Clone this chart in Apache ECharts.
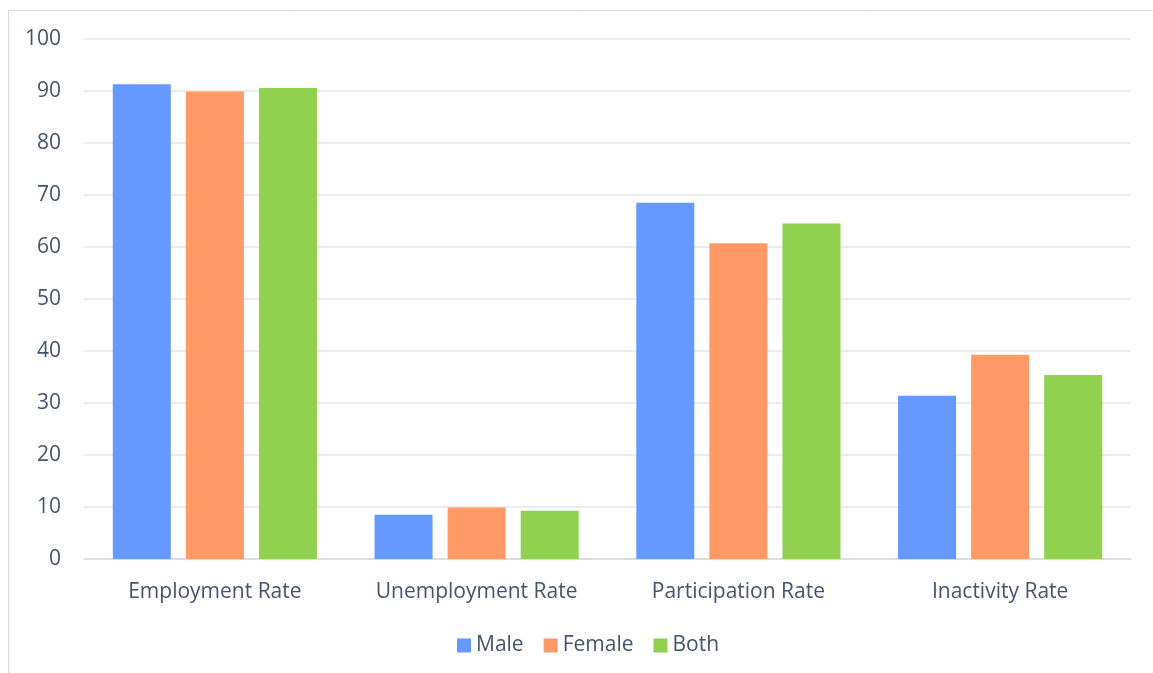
<!DOCTYPE html>
<html><head><meta charset="utf-8">
<script src="https://cdn.jsdelivr.net/npm/echarts@6/dist/echarts.min.js"></script>
<style>html,body{margin:0;padding:0;background:#fff}#c{width:1153px;height:673px}</style>
</head><body><div id="c"></div>
<script>
const categories = ['Employment Rate','Unemployment Rate','Participation Rate','Inactivity Rate'];
const male = [91.3, 8.5, 68.5, 31.4];
const female = [89.9, 9.9, 60.7, 39.3];
const both = [90.6, 9.3, 64.5, 35.4];
const yTicks = {min:0, max:100, interval:10};

const chart = echarts.init(document.getElementById('c'));
const font = 'Open Sans';
const txt = '#44546A';
chart.setOption({
  animation:false,
  graphic:[{type:'rect',shape:{x:8.5,y:10.5,width:1160,height:700},style:{fill:'none',stroke:'#D9D9D9',lineWidth:1},silent:true}],
  grid:{left:84,right:22,top:39,bottom:114,containLabel:false},
  legend:{bottom:12,left:452,itemWidth:14,itemHeight:14,itemGap:20,icon:'rect',
    textStyle:{color:txt,fontFamily:font,fontSize:21},data:['Male','Female','Both']},
  xAxis:{type:'category',data:categories,axisTick:{show:false},
    axisLine:{lineStyle:{color:'#D9D9D9',width:1.5}},
    axisLabel:{color:txt,fontFamily:font,fontSize:21,margin:23,interval:0}},
  yAxis:{type:'value',min:yTicks.min,max:yTicks.max,interval:yTicks.interval,
    axisLabel:{color:txt,fontFamily:font,fontSize:21,margin:23},
    splitLine:{lineStyle:{color:'#E3E6EB',width:1.5}},axisLine:{show:false}},
  series:[
    {name:'Male',type:'bar',data:male,barWidth:58,barGap:'26%',itemStyle:{color:'#6699FF'}},
    {name:'Female',type:'bar',data:female,barWidth:58,itemStyle:{color:'#FF9966'}},
    {name:'Both',type:'bar',data:both,barWidth:58,itemStyle:{color:'#92D050'}}
  ]
});
</script></body></html>
